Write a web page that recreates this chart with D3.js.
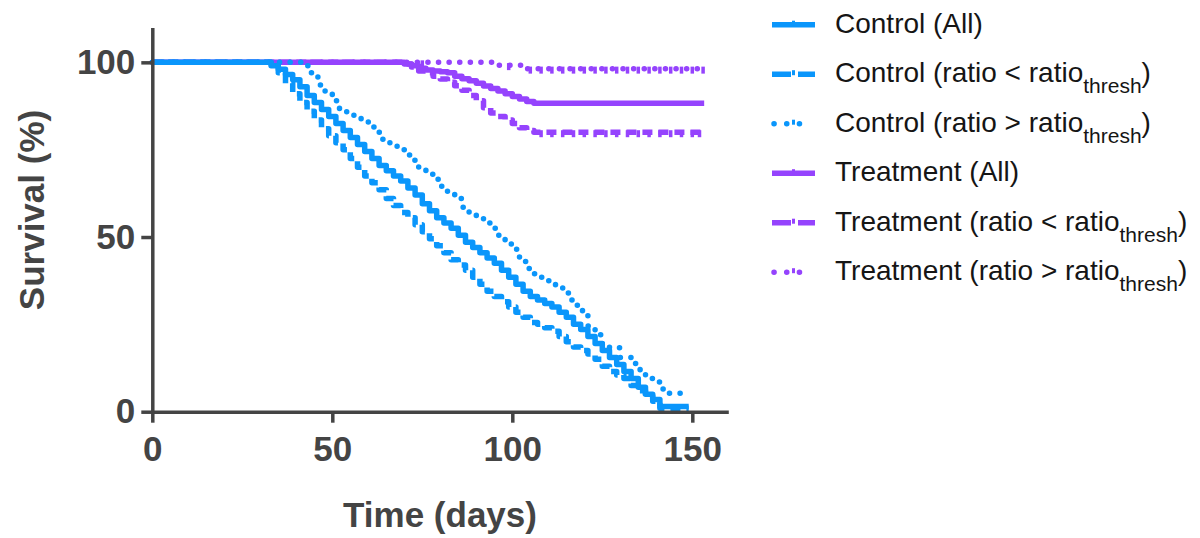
<!DOCTYPE html>
<html>
<head>
<meta charset="utf-8">
<script src="https://cdn.jsdelivr.net/npm/d3@7/dist/d3.min.js"></script>
<style>
  html, body { margin: 0; padding: 0; background: #fff; }
  svg { display: block; }
</style>
</head>
<body>
<svg id="chart" width="1200" height="538"></svg>
<script>
// Kaplan–Meier survival estimates: step times (days) and survival (%)
const ctrlAllT = [0, 33, 35, 37, 39, 41, 43, 45, 47, 49, 51, 53, 55, 57, 59, 61, 63, 65, 67, 69, 71, 73, 75, 77, 79, 81, 83, 85, 87, 89, 91, 93, 95, 97, 99, 101, 103, 105, 107, 109, 111, 113, 115, 117, 119, 121, 123, 125, 127, 129, 131, 133, 135, 137, 139, 141, 149];
const ctrlAllS = [100, 99, 98, 96.5, 95, 93, 90.5, 88.5, 86.5, 84.5, 82.5, 80.5, 78.5, 76.5, 74.5, 72.5, 70.5, 69, 67.5, 66, 64, 62, 59.5, 57.5, 55.5, 54, 52.5, 50.5, 48.5, 47, 45.5, 44, 42.5, 40.5, 38.5, 36.5, 34.5, 33, 32, 31, 30, 28.5, 27, 25, 23.5, 21.5, 19.5, 17.5, 15.5, 13.5, 11.5, 9.5, 7, 5, 3.5, 1.5, 1.5];

const ctrlLowT = [0, 33, 35, 37, 39, 41, 43, 45, 47, 49, 51, 53, 55, 57, 59, 61, 63, 65, 67, 69, 71, 73, 75, 77, 79, 81, 83, 85, 87, 89, 91, 93, 95, 97, 99, 101, 103, 105, 107, 109, 111, 113, 115, 117, 119, 121, 123, 125, 127, 129, 131, 133, 135, 137, 139, 141, 149];
const ctrlLowS = [100, 99, 97, 94, 91, 88.5, 86, 83.5, 81, 79, 77, 75, 72.5, 70, 67.5, 65.5, 63.5, 61, 59, 57, 55.5, 53.5, 51.5, 49.5, 47.5, 45.5, 43.5, 42, 40.5, 38.5, 36.5, 34.5, 33, 31.5, 30, 28.5, 27, 25.5, 25, 24, 23, 21.5, 20, 18.5, 17.5, 16.5, 15, 13, 11.5, 10.5, 9.5, 7.5, 6, 4.5, 3, 1, 1];

const ctrlHighT = [0, 43, 44, 46, 48, 50, 52, 54, 56, 58, 60, 62, 64, 66, 68, 70, 72, 74, 76, 78, 80, 82, 84, 86, 88, 90, 92, 94, 96, 98, 100, 102, 104, 106, 108, 110, 112, 114, 116, 118, 119.5, 121, 123, 125, 127, 130, 133, 135.5, 137, 139, 141, 143, 149];
const ctrlHighS = [100, 99, 97, 93.5, 91, 89, 86.5, 85.5, 84, 83, 81.5, 80, 78, 76.5, 75, 73.5, 72, 70, 68, 66.5, 64.5, 63, 61, 58.5, 57, 56, 54, 52.5, 50.5, 48, 46.5, 43, 41, 39.5, 38.5, 37.5, 35.5, 34, 32, 30.5, 28, 24.5, 22, 19, 18.3, 15.5, 13.8, 11, 9.5, 8.5, 6.5, 5.3, 5.3];

const trtAllT = [0, 70, 72, 74, 76, 78, 80, 82, 84, 86, 88, 90, 92, 94, 96, 98, 100, 102, 104, 106, 153.3];
const trtAllS = [100, 99.5, 99, 98.3, 97.8, 97.5, 97.3, 97, 96, 95.3, 94.7, 94, 93.2, 92.5, 91.8, 91, 90.2, 89.5, 88.8, 88.3, 88.3];

const trtLowT = [0, 70, 72, 74, 76, 78, 80, 82, 84, 86, 88, 90, 92, 94, 96, 98, 100, 102, 104, 106, 152.6];
const trtLowS = [100, 99.5, 98.7, 97.5, 97, 96, 95.2, 94.3, 93.3, 92, 90.5, 89, 87, 85.5, 84.5, 83.5, 82.5, 81.3, 80.5, 80, 80];

const trtHighT = [0, 96, 103, 153.3];
const trtHighS = [100, 99.2, 98.2, 98.2];

// censored observations (days)
const trtLowCensor = [108, 111, 114, 117, 120, 123, 126, 129, 132, 135, 138, 141, 144, 147, 150, 152];
const trtHighCensor = [75, 99, 105, 108, 111, 114, 117, 120, 123, 126, 129, 132, 135, 138, 141, 144, 147, 150, 153];

// axes
const xTicks = [0, 50, 100, 150];
const yTicks = [0, 50, 100];

const seriesNames = [
  ["Control (All)", null],
  ["Control (ratio < ratio", "thresh"],
  ["Control (ratio > ratio", "thresh"],
  ["Treatment (All)", null],
  ["Treatment (ratio < ratio", "thresh"],
  ["Treatment (ratio > ratio", "thresh"]
];

const BLUE = "#0a96fb";
const PURPLE = "#9543fd";
const AXIS = "#444444";

const svg = d3.select("#chart");

const x = d3.scaleLinear().domain([0, 160]).range([152.3, 728.3]);
const y = d3.scaleLinear().domain([0, 110]).range([411.7, 27.4]);

const styles = {
  solid: { dash: null, width: 5.5 },
  dashed: { dash: "10,6", width: 5.5 },
  dotted: { dash: "0.1,10.5", width: 5.5 }
};

const series = [
  { t: trtHighT, s: trtHighS, color: PURPLE, style: "dotted", censor: trtHighCensor },
  { t: trtLowT, s: trtLowS, color: PURPLE, style: "dashed", censor: trtLowCensor },
  { t: trtAllT, s: trtAllS, color: PURPLE, style: "solid", censor: [] },
  { t: ctrlHighT, s: ctrlHighS, color: BLUE, style: "dotted", censor: [] },
  { t: ctrlLowT, s: ctrlLowS, color: BLUE, style: "dashed", censor: [] },
  { t: ctrlAllT, s: ctrlAllS, color: BLUE, style: "solid", censor: [] }
];

const line = d3.line()
  .x(d => x(d[0]))
  .y(d => y(d[1]))
  .curve(d3.curveStepAfter);

// survival at a given time from a step series
function survAt(t, ts, ss) {
  let v = ss[0];
  for (let i = 0; i < ts.length; i++) if (ts[i] <= t) v = ss[i];
  return v;
}

const plot = svg.append("g");
series.forEach(sr => {
  const pts = sr.t.map((t, i) => [t, sr.s[i]]);
  const st = styles[sr.style];
  plot.append("path")
    .attr("d", line(pts))
    .attr("fill", "none")
    .attr("stroke", sr.color)
    .attr("stroke-width", st.width)
    .attr("stroke-linecap", sr.style === "dotted" ? "round" : "butt")
    .attr("stroke-linejoin", "round")
    .attr("stroke-dasharray", st.dash);
  plot.selectAll(null)
    .data(sr.censor)
    .enter().append("line")
    .attr("x1", d => x(d)).attr("x2", d => x(d))
    .attr("y1", d => y(survAt(d, sr.t, sr.s)) - 2)
    .attr("y2", d => y(survAt(d, sr.t, sr.s)) + 5)
    .attr("stroke", sr.color)
    .attr("stroke-width", 3.5);
});

// axes
const tickFont = "'Liberation Sans', Arial, Helvetica, sans-serif";

const xAxis = svg.append("g")
  .attr("transform", `translate(0,${y(0)})`)
  .call(d3.axisBottom(x).tickValues(xTicks).tickFormat(d3.format("d"))
    .tickSize(11).tickSizeOuter(0).tickPadding(13));

const yAxis = svg.append("g")
  .attr("transform", `translate(${x(0)},0)`)
  .call(d3.axisLeft(y).tickValues(yTicks).tickFormat(d3.format("d"))
    .tickSize(11).tickSizeOuter(0).tickPadding(6));

[xAxis, yAxis].forEach(g => {
  g.select(".domain").attr("stroke", AXIS).attr("stroke-width", 3.5);
  g.selectAll(".tick line").attr("stroke", AXIS).attr("stroke-width", 3.5);
  g.selectAll(".tick text")
    .attr("fill", AXIS)
    .style("font-family", tickFont)
    .style("font-weight", "bold")
    .style("font-size", "35px");
});

// axis titles
svg.append("text")
  .attr("x", 440).attr("y", 527)
  .attr("text-anchor", "middle")
  .attr("fill", AXIS)
  .style("font-family", tickFont)
  .style("font-weight", "bold")
  .style("font-size", "35px")
  .text("Time (days)");

svg.append("text")
  .attr("transform", "translate(44,210) rotate(-90)")
  .attr("text-anchor", "middle")
  .attr("fill", AXIS)
  .style("font-family", tickFont)
  .style("font-weight", "bold")
  .style("font-size", "35px")
  .text("Survival (%)");

// legend
const legendStyles = [
  { color: BLUE, dash: null },
  { color: BLUE, dash: "19,7" },
  { color: BLUE, dash: "0.1,12.6" },
  { color: PURPLE, dash: null },
  { color: PURPLE, dash: "19,7" },
  { color: PURPLE, dash: "0.1,12.6" }
];
const legend = svg.append("g");
seriesNames.forEach((nm, i) => {
  const base = 32.7 + i * 49.5;
  const ly = base - 8;
  const ls = legendStyles[i];
  const dotted = ls.dash && ls.dash.startsWith("0.1");
  legend.append("line")
    .attr("x1", dotted ? 774 : 772).attr("x2", dotted ? 812 : 815)
    .attr("y1", ly).attr("y2", ly)
    .attr("stroke", ls.color)
    .attr("stroke-width", 5.5)
    .attr("stroke-linecap", dotted ? "round" : "butt")
    .attr("stroke-dasharray", ls.dash);
  legend.append("line")
    .attr("x1", 793.5).attr("x2", 793.5)
    .attr("y1", ly - 4).attr("y2", ly + 1)
    .attr("stroke", ls.color)
    .attr("stroke-width", 3);
  const tx = legend.append("text")
    .attr("x", 835).attr("y", base)
    .attr("fill", "#151515")
    .style("font-family", tickFont)
    .style("font-size", "28px");
  tx.append("tspan").text(nm[0]);
  if (nm[1]) {
    tx.append("tspan").attr("dy", 11).style("font-size", "21px").text(nm[1]);
    tx.append("tspan").attr("dy", -11).text(")");
  }
});
</script>
</body>
</html>
